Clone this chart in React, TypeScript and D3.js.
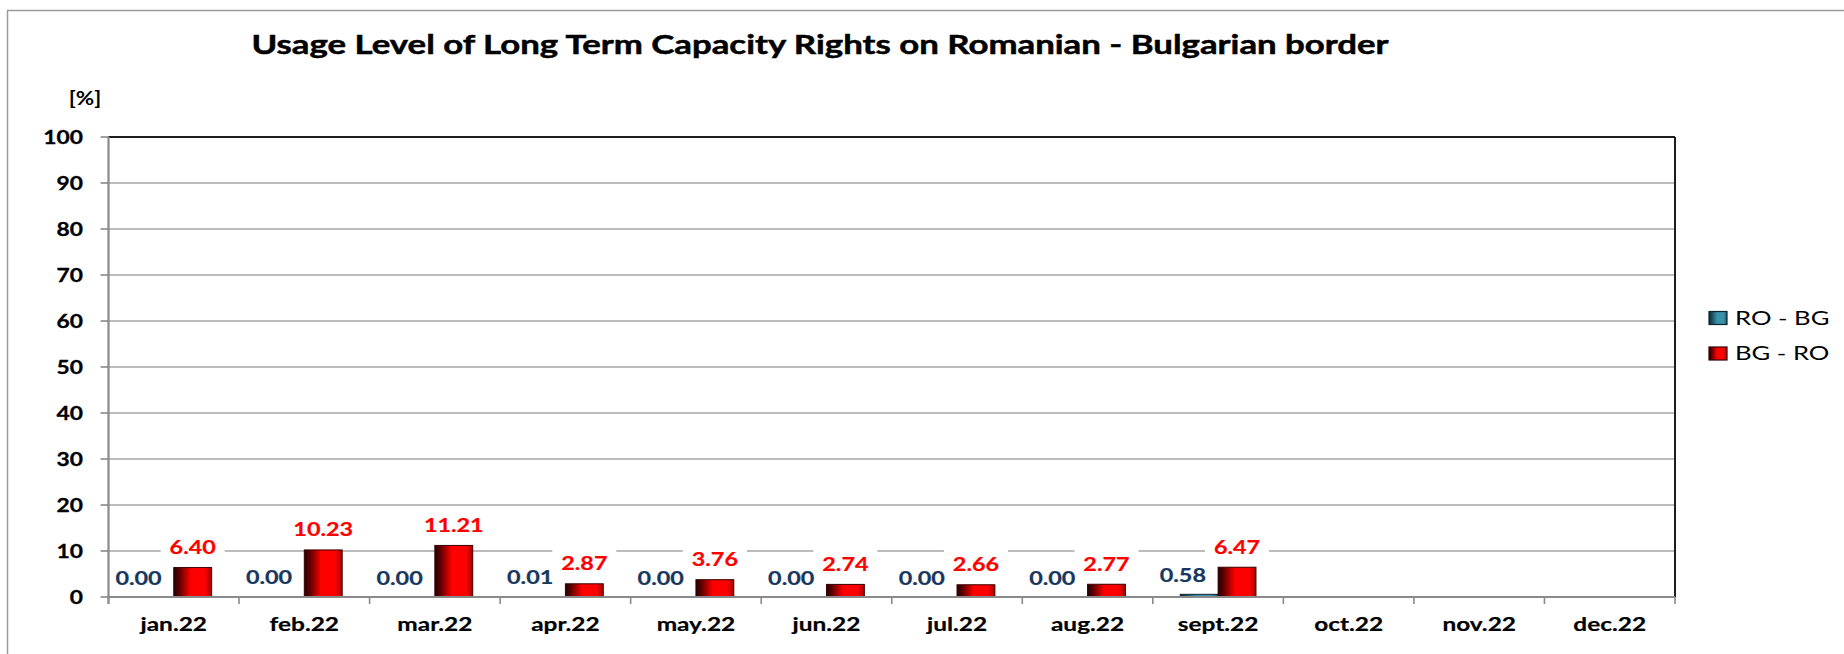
import React from 'react';
import * as d3 from 'd3';

const title = 'Usage Level of Long Term Capacity Rights on Romanian - Bulgarian border';
const yUnit = '[%]';
const categories = ['jan.22', 'feb.22', 'mar.22', 'apr.22', 'may.22', 'jun.22', 'jul.22', 'aug.22', 'sept.22', 'oct.22', 'nov.22', 'dec.22'];
const seriesNames = ['RO - BG', 'BG - RO'];
const roBg: (number | null)[] = [0.0, 0.004, 0.0, 0.01, 0.0, 0.0, 0.0, 0.0, 0.58, null, null, null];
const bgRo: (number | null)[] = [6.4, 10.23, 11.21, 2.87, 3.76, 2.74, 2.66, 2.77, 6.47, null, null, null];
const yTicks = [0, 10, 20, 30, 40, 50, 60, 70, 80, 90, 100];

const FONT = 'Lato, "Open Sans", sans-serif';

function SText(props: {
  x: number; y: number; sx?: number; anchor?: string; size: number; weight?: number | string; fill?: string; thick?: number; children: React.ReactNode;
}) {
  const { x, y, sx = 1.3, anchor = 'middle', size, weight = 700, fill = '#000', thick = 0, children } = props;
  return (
    <text
      transform={`translate(${x},${y}) scale(${sx},1)`}
      textAnchor={anchor}
      fontFamily={FONT}
      fontSize={size}
      fontWeight={weight}
      fill={fill}
      stroke={thick ? fill : 'none'}
      strokeWidth={thick}
    >
      {children}
    </text>
  );
}

export default function App() {
  const W = 1844;
  const H = 654;
  const plot = { left: 108.5, right: 1675, top: 137, bottom: 597 };

  const x0 = d3.scaleBand<string>().domain(categories).range([plot.left, plot.right]);
  const bw = x0.bandwidth();
  const x1 = d3.scaleBand<string>().domain(seriesNames).range([bw * 0.21, bw * 0.79]);
  const y = d3.scaleLinear().domain([0, 100]).range([plot.bottom, plot.top]);

  const series = [
    { name: seriesNames[0], values: roBg, grad: 'gradBlue', stroke: '#0d2630', labelColor: '#17375E' },
    { name: seriesNames[1], values: bgRo, grad: 'gradRed', stroke: '#3a0000', labelColor: '#FF0000' },
  ];

  const fmt = d3.format('.2f');

  return (
    <svg width={W} height={H} style={{ position: 'absolute', left: 0, top: 0, background: '#fff' }}>
      <defs>
        <linearGradient id="gradRed" x1="0" y1="0" x2="1" y2="0">
          <stop offset="0" stopColor="#220000" />
          <stop offset="0.15" stopColor="#600000" />
          <stop offset="0.45" stopColor="#ff0000" />
          <stop offset="0.82" stopColor="#ff0000" />
          <stop offset="1" stopColor="#a00000" />
        </linearGradient>
        <linearGradient id="gradBlue" x1="0" y1="0" x2="1" y2="0">
          <stop offset="0" stopColor="#0a2530" />
          <stop offset="0.15" stopColor="#164a5a" />
          <stop offset="0.45" stopColor="#3a92aa" />
          <stop offset="0.82" stopColor="#3a92aa" />
          <stop offset="1" stopColor="#1b5566" />
        </linearGradient>
      </defs>

      {/* outer chart border */}
      <rect x={7.5} y={10.5} width={W + 10} height={H + 10} fill="#fff" stroke="#9a9a9a" strokeWidth={1.5} />

      {/* title */}
      <SText x={820} y={54} size={27.5} sx={1.265} thick={0.5}>{title}</SText>
      <SText x={85} y={105} size={18} sx={1.25}>{yUnit}</SText>

      {/* gridlines */}
      {yTicks.filter((t) => t > 0 && t < 100).map((t) => (
        <line key={t} x1={plot.left} x2={plot.right} y1={y(t)} y2={y(t)} stroke="#a6a6a6" strokeWidth={1.6} />
      ))}

      {/* y ticks and labels */}
      {yTicks.map((t) => (
        <g key={t}>
          <line x1={plot.left - 8} x2={plot.left} y1={y(t)} y2={y(t)} stroke="#8a8a8a" strokeWidth={1.6} />
          <SText x={83} y={y(t) + 7} anchor="end" size={19} sx={1.2} thick={0.3}>{t}</SText>
        </g>
      ))}

      {/* category ticks */}
      {categories.map((c) => (
        <line key={c} x1={x0(c)!} x2={x0(c)!} y1={plot.bottom} y2={plot.bottom + 7} stroke="#8a8a8a" strokeWidth={1.6} />
      ))}
      <line x1={plot.right} x2={plot.right} y1={plot.bottom} y2={plot.bottom + 7} stroke="#8a8a8a" strokeWidth={1.6} />

      {/* category labels */}
      {categories.map((c) => (
        <SText key={c} x={x0(c)! + bw / 2} y={631} size={18.5} sx={1.32} thick={0.2}>{c}</SText>
      ))}

      {/* bars */}
      {series.map((s) =>
        s.values.map((v, i) => {
          if (v == null || v <= 0) return null;
          const bx = x0(categories[i])! + x1(s.name)!;
          const h = plot.bottom - y(v);
          return (
            <rect
              key={s.name + i}
              x={bx}
              y={y(v)}
              width={x1.bandwidth()}
              height={Math.max(h, 0.5)}
              fill={`url(#${s.grad})`}
              stroke={s.stroke}
              strokeWidth={1}
            />
          );
        })
      )}

      {/* axes and plot frame */}
      <line x1={plot.left} x2={plot.right} y1={plot.top} y2={plot.top} stroke="#1e1e1e" strokeWidth={2} />
      <line x1={plot.right} x2={plot.right} y1={plot.top} y2={plot.bottom} stroke="#1e1e1e" strokeWidth={2} />
      <line x1={plot.left} x2={plot.left} y1={plot.top} y2={plot.bottom + 7} stroke="#8a8a8a" strokeWidth={2.2} />
      <line x1={plot.left} x2={plot.right} y1={plot.bottom} y2={plot.bottom} stroke="#8a8a8a" strokeWidth={2.2} />

      {/* data labels: BG - RO (with white boxes) */}
      {bgRo.map((v, i) => {
        if (v == null) return null;
        const cx = x0(categories[i])! + x1(seriesNames[1])! + x1.bandwidth() / 2;
        const cy = y(v) - 20;
        return (
          <g key={'lr' + i}>
            <rect x={cx - 32} y={cy - 18} width={64} height={30} fill="#fff" />
            <SText x={cx} y={cy + 6.5} size={18} sx={1.3} fill="#FF0000" thick={0.2}>{fmt(v)}</SText>
          </g>
        );
      })}
      {/* data labels: RO - BG */}
      {roBg.map((v, i) => {
        if (v == null) return null;
        const cx = x0(categories[i])! + bw * 0.5 - bw * 0.27;
        const cy = y(v) - 19;
        return (
          <SText key={'lb' + i} x={cx} y={cy + 6.5} size={18} sx={1.3} fill="#17375E" thick={0.2}>{fmt(v)}</SText>
        );
      })}

      {/* legend */}
      {series.map((s, i) => (
        <g key={'leg' + s.name}>
          <rect x={1709} y={311.5 + i * 35.5} width={18} height={13} fill={`url(#${s.grad})`} stroke={s.stroke} strokeWidth={1.2} />
          <SText x={1735} y={324.5 + i * 35.5} anchor="start" size={19} weight={400} sx={1.35}>{s.name}</SText>
        </g>
      ))}
    </svg>
  );
}
